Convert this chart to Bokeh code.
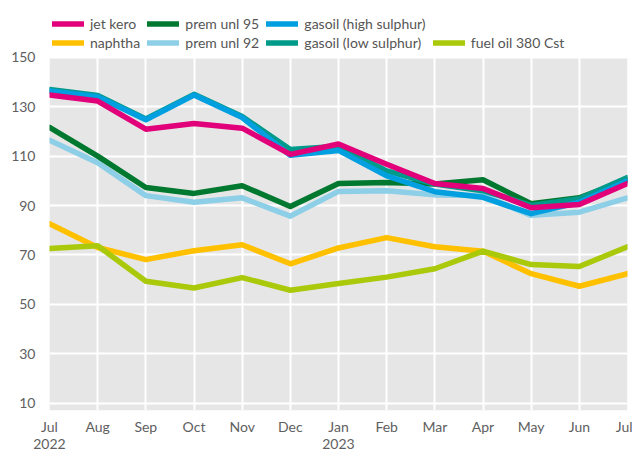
from bokeh.plotting import figure
from bokeh.models import Legend, LegendItem, FixedTicker, Range1d, BoxAnnotation
from bokeh.embed import file_html
from bokeh.resources import INLINE

months = ["Jul\n2022", "Aug", "Sep", "Oct", "Nov", "Dec", "Jan\n2023",
          "Feb", "Mar", "Apr", "May", "Jun", "Jul"]
x = list(range(len(months)))
y_ticks = [10, 30, 50, 70, 90, 110, 130, 150]
Y_MIN, Y_MAX = 7, 150

jet_kero = [134.7, 132.3, 120.9, 123.2, 121.3, 110.7, 114.9, 106.7, 98.9, 96.9, 89.1, 90.4, 98.9]
gasoil_high = [136.4, 134.0, 124.7, 134.7, 125.6, 110.3, 112.3, 102.0, 95.6, 93.3, 86.7, 91.3, 100.0]
gasoil_low = [137.0, 134.5, 125.0, 135.0, 126.0, 112.7, 114.0, 104.0, 98.7, 96.0, 90.0, 92.7, 101.3]
prem_unl_95 = [121.6, 110.0, 97.3, 94.9, 98.0, 89.6, 98.9, 99.3, 98.7, 100.4, 90.7, 93.1, 100.5]
prem_unl_92 = [116.4, 107.3, 94.0, 91.3, 93.1, 85.7, 95.7, 96.0, 94.3, 94.0, 86.0, 87.3, 93.1]
naphtha = [82.6, 73.0, 68.1, 71.7, 74.1, 66.4, 72.8, 77.0, 73.3, 71.5, 62.4, 57.3, 62.4]
fuel_oil = [72.6, 73.7, 59.3, 56.6, 60.8, 55.7, 58.4, 61.0, 64.4, 71.5, 66.1, 65.3, 73.3]

FONT = "Lato"
FS = "14px"

p = figure(width=632, height=455, output_backend="svg", toolbar_location=None,
           x_range=Range1d(0, 12), y_range=Range1d(Y_MIN, 173),
           min_border_left=49, min_border_right=5, min_border_top=0, min_border_bottom=0)
p.background_fill_color = "white"
p.border_fill_color = "white"
p.outline_line_color = None

panel = BoxAnnotation(bottom=Y_MIN, top=Y_MAX, fill_color="#e6e6e6", fill_alpha=1,
                      line_color=None, level="image")
p.add_layout(panel)

series = [
    ("naphtha", naphtha, "#ffc000"),
    ("fuel oil 380 Cst", fuel_oil, "#aac90a"),
    ("prem unl 92", prem_unl_92, "#8ccfe6"),
    ("prem unl 95", prem_unl_95, "#00782f"),
    ("gasoil (low sulphur)", gasoil_low, "#009a8a"),
    ("gasoil (high sulphur)", gasoil_high, "#009fe0"),
    ("jet kero", jet_kero, "#e2007a"),
]
rend = {}
for name, ys, col in series:
    rend[name] = p.line(x, ys, line_color=col, line_width=5.5,
                        line_cap="round", line_join="round")

for ax in (p.xaxis[0], p.yaxis[0]):
    ax.axis_line_color = None
    ax.major_tick_line_color = None
    ax.minor_tick_line_color = None
    ax.major_label_text_font = FONT
    ax.major_label_text_font_size = FS
    ax.major_label_text_color = "#606060"

p.xaxis[0].ticker = FixedTicker(ticks=x)
p.xaxis[0].major_label_overrides = {i: m for i, m in zip(x, months)}
p.xaxis[0].major_label_standoff = 1
p.xaxis[0].major_label_text_line_height = 1.05
p.yaxis[0].ticker = FixedTicker(ticks=y_ticks)
p.yaxis[0].major_label_standoff = 8

p.xgrid[0].ticker = FixedTicker(ticks=x)
p.xgrid[0].bounds = (Y_MIN, Y_MAX)
p.ygrid[0].ticker = FixedTicker(ticks=y_ticks)
for g in (p.xgrid[0], p.ygrid[0]):
    g.grid_line_color = "white"
    g.grid_line_width = 2

order = ["jet kero", "naphtha", "prem unl 95", "prem unl 92",
         "gasoil (high sulphur)", "gasoil (low sulphur)", None, "fuel oil 380 Cst"]
items = []
for n in order:
    if n is None:
        items.append(LegendItem(label=" ", renderers=[]))
    else:
        items.append(LegendItem(label=n + "  ", renderers=[rend[n]]))

leg = Legend(items=items, location=(0, 355), orientation="vertical", nrows=2,
             label_text_font=FONT, label_text_font_size=FS,
             label_text_color="#555555", glyph_width=32, glyph_height=19,
             label_height=19, spacing=0, padding=3, margin=0,
             label_standoff=6, border_line_alpha=0, background_fill_alpha=0)
p.add_layout(leg, "center")

open("out.html", "w").write(file_html(p, INLINE))
